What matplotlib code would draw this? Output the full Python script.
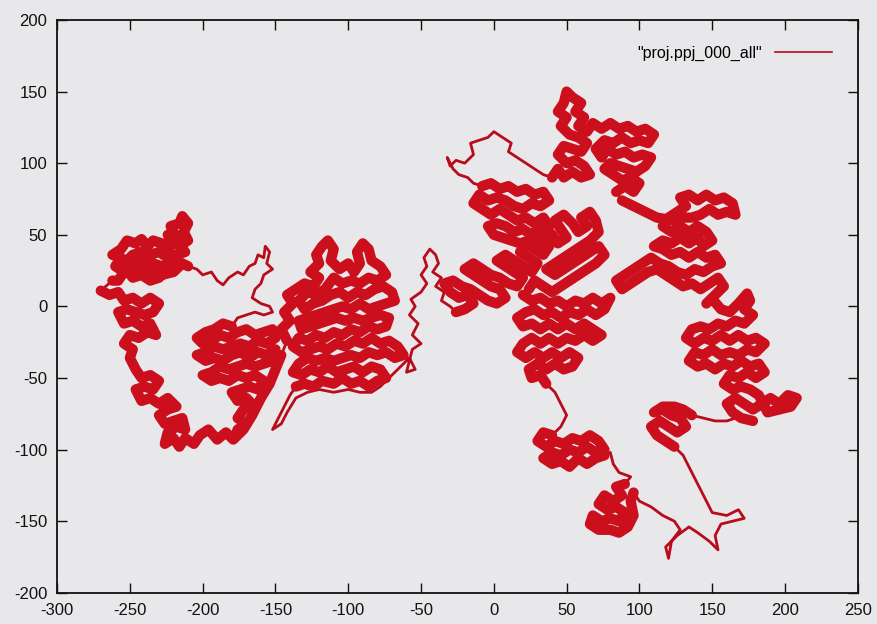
import matplotlib.pyplot as plt

plt.rcParams['font.family'] = ['Liberation Sans', 'DejaVu Sans']
plt.rcParams['axes.unicode_minus'] = False

# walk waypoints (x, y), in the order the walk visits them
west_arm = [(-179, -93), (-184, -88), (-190, -93), (-196, -86), (-202, -90), (-206, -96),
            (-212, -92), (-216, -98), (-220, -92), (-226, -96), (-224, -88), (-218, -84),
            (-212, -86), (-214, -78), (-220, -80), (-226, -82), (-230, -76), (-224, -72),
            (-218, -70), (-224, -64), (-230, -68), (-236, -64), (-242, -66), (-246, -58),
            (-240, -56), (-234, -58), (-230, -52), (-236, -48), (-242, -50), (-246, -44),
            (-250, -36), (-248, -30), (-254, -26), (-250, -20), (-244, -22), (-238, -18),
            (-232, -20), (-236, -12), (-242, -14), (-248, -10), (-254, -12), (-258, -4),
            (-252, -2), (-246, -4), (-240, -6), (-234, -4), (-230, 2), (-236, 6),
            (-242, 2), (-248, 6), (-254, 4), (-258, 10), (-264, 8), (-270, 11)]

north_west = [(-262, 18), (-258, 18), (-254, 24), (-260, 28), (-256, 34), (-262, 36),
              (-256, 40), (-252, 46), (-246, 44), (-242, 47), (-238, 42), (-234, 46),
              (-228, 44), (-224, 40), (-220, 44), (-224, 50), (-218, 48), (-222, 56),
              (-216, 58), (-214, 63), (-210, 58), (-213, 52), (-210, 46), (-216, 42),
              (-212, 38), (-218, 36), (-224, 34), (-230, 38), (-236, 36), (-242, 38),
              (-248, 36), (-252, 32), (-246, 30), (-240, 32), (-234, 30), (-228, 28),
              (-222, 30), (-216, 28), (-220, 24), (-228, 22), (-236, 24), (-244, 26),
              (-250, 24), (-254, 28), (-248, 20), (-242, 22), (-236, 18), (-230, 20),
              (-224, 26), (-216, 31), (-210, 28)]

ridge = [(-204, 26), (-200, 22), (-194, 24), (-190, 18), (-186, 15), (-182, 20),
         (-176, 24), (-172, 22), (-168, 28), (-164, 30), (-162, 36), (-158, 34),
         (-157, 42), (-154, 38), (-156, 30), (-152, 26), (-158, 22), (-160, 16),
         (-164, 12), (-166, 6), (-160, 2), (-154, 0), (-152, -4), (-158, -6),
         (-164, -4), (-170, -6), (-176, -8)]

west_lobe = [(-180, -14), (-186, -12), (-192, -16), (-198, -18), (-204, -22), (-200, -26),
             (-194, -24), (-188, -20), (-182, -22), (-176, -18), (-170, -16), (-164, -20),
             (-158, -18), (-152, -16), (-150, -22), (-156, -26), (-162, -24), (-168, -28),
             (-174, -26), (-180, -28), (-186, -30), (-192, -28), (-198, -32), (-204, -34),
             (-198, -38), (-192, -36), (-186, -38), (-180, -34), (-174, -32), (-168, -36),
             (-162, -32), (-156, -34), (-150, -30), (-152, -38), (-158, -40), (-164, -42),
             (-170, -40), (-176, -42), (-182, -44), (-188, -42), (-194, -46), (-200, -48),
             (-194, -52), (-188, -50), (-182, -52), (-176, -48), (-170, -50), (-164, -48),
             (-158, -52), (-162, -58), (-168, -56), (-174, -58), (-180, -60), (-176, -66),
             (-170, -64), (-166, -68), (-172, -72), (-176, -78), (-170, -82), (-176, -86),
             (-178, -92), (-172, -86), (-166, -76), (-160, -64), (-154, -54), (-150, -44),
             (-146, -34)]

centre_lobe = [(-142, -24), (-146, -16), (-140, -10), (-144, -4), (-138, 2), (-142, 8),
               (-136, 12), (-130, 16), (-124, 14), (-120, 20), (-126, 24), (-120, 30),
               (-122, 36), (-118, 42), (-114, 46), (-110, 40), (-112, 32), (-106, 26),
               (-100, 30), (-96, 24), (-92, 30), (-94, 38), (-90, 44), (-86, 40),
               (-84, 32), (-78, 28), (-74, 22), (-80, 18), (-86, 20), (-92, 16),
               (-98, 18), (-104, 16), (-110, 20), (-116, 12), (-122, 8), (-128, 10),
               (-134, 4), (-130, -2), (-124, 2), (-118, 4), (-112, 8), (-106, 10),
               (-100, 6), (-94, 10), (-88, 8), (-82, 12), (-76, 14), (-70, 10),
               (-68, 4), (-74, 2), (-80, 0), (-86, -2), (-92, 2), (-98, -2),
               (-104, 0), (-110, -2), (-116, -4), (-122, -6), (-128, -8), (-134, -10),
               (-132, -16), (-126, -14), (-120, -12), (-114, -10), (-108, -8), (-102, -10),
               (-96, -8), (-90, -10), (-84, -8), (-78, -6), (-72, -8), (-74, -14),
               (-80, -16), (-86, -14), (-92, -18), (-98, -16), (-104, -20), (-110, -18),
               (-116, -22), (-122, -20), (-128, -24), (-134, -22), (-138, -28), (-132, -32),
               (-126, -30), (-120, -28), (-114, -30), (-108, -26), (-102, -28), (-96, -24),
               (-90, -26), (-84, -22), (-78, -26), (-72, -24), (-66, -28), (-62, -34),
               (-68, -36), (-74, -32), (-80, -34), (-86, -32), (-92, -36), (-98, -34),
               (-104, -36), (-110, -38), (-116, -36), (-122, -38), (-128, -36), (-134, -40),
               (-138, -46), (-132, -48), (-126, -44), (-120, -46), (-114, -42), (-108, -46),
               (-102, -44), (-96, -42), (-90, -46), (-84, -42), (-78, -44), (-74, -50),
               (-80, -52), (-86, -56), (-92, -52), (-98, -54), (-104, -50), (-110, -54),
               (-118, -52), (-124, -56), (-130, -54), (-136, -56)]

south_tail = [(-140, -62), (-144, -70), (-148, -78), (-152, -86), (-146, -82), (-142, -74),
              (-136, -64), (-128, -60), (-120, -58), (-110, -60), (-100, -58), (-92, -60),
              (-84, -60), (-78, -56), (-70, -48)]

east_fringe = [(-64, -42), (-58, -36), (-54, -44), (-60, -46), (-56, -30), (-50, -26),
               (-56, -20), (-52, -12), (-58, -6), (-54, 0), (-57, 5), (-50, 10),
               (-46, 16), (-50, 22), (-46, 28), (-48, 34), (-44, 40), (-40, 36),
               (-38, 30), (-42, 24), (-36, 20), (-40, 14), (-34, 10), (-36, 4), (-30, 0)]

band = [(-26, -4), (-20, -2), (-14, 2), (-18, 8), (-24, 6), (-30, 10), (-34, 16),
        (-28, 18), (-22, 14), (-16, 12), (-10, 8), (-4, 4), (2, 2), (8, 6), (4, 12),
        (-2, 14), (-8, 18), (-14, 22), (-20, 26), (-14, 30), (-8, 26), (-2, 22), (4, 20),
        (10, 16), (16, 14), (20, 20), (14, 24), (8, 28), (2, 32), (8, 36), (14, 32),
        (20, 28), (26, 24), (30, 30), (24, 34), (18, 38), (22, 44), (28, 40), (34, 36),
        (38, 42), (32, 46), (28, 52), (34, 56), (40, 50), (44, 44), (50, 48), (46, 54),
        (42, 60), (48, 64), (54, 58), (58, 52), (64, 56), (60, 62), (66, 66), (70, 60),
        (72, 52), (66, 46), (60, 42), (54, 38), (48, 34), (42, 30), (36, 26), (42, 22),
        (48, 26), (54, 30), (60, 34), (66, 38), (72, 42), (76, 36), (70, 30), (64, 26),
        (58, 22), (52, 18), (46, 14), (40, 10), (34, 14), (28, 18), (24, 12)]

south_lobe = [(20, 8), (26, 4), (32, 6), (38, 2), (44, 4), (50, 0), (56, 4), (62, 2),
              (68, 6), (74, 2), (80, 6), (76, -2), (70, -6), (64, -2), (58, -6), (52, -4),
              (46, -8), (40, -4), (34, -6), (28, -2), (22, -4), (16, -8), (20, -14),
              (26, -12), (32, -16), (38, -12), (44, -16), (50, -12), (56, -16), (62, -12),
              (68, -16), (74, -20), (68, -24), (62, -20), (56, -24), (50, -22), (44, -26),
              (38, -22), (32, -26), (26, -22), (20, -26), (16, -32), (22, -36), (28, -32),
              (34, -36), (40, -32), (46, -36), (52, -32), (58, -36), (54, -42), (48, -44),
              (42, -40), (36, -44), (30, -40), (24, -44), (26, -50), (32, -48), (36, -54)]

south_chain = [(42, -60), (46, -68), (50, -76), (46, -84)]

lower_blob = [(40, -90), (34, -88), (30, -94), (36, -98), (42, -94), (48, -96), (54, -92),
              (60, -94), (66, -90), (72, -94), (76, -100), (70, -102), (64, -98), (58, -102),
              (52, -100), (46, -104), (40, -102), (34, -106), (40, -110), (46, -108),
              (52, -112), (58, -106), (64, -110), (70, -106), (76, -104)]

neck = [(80, -102), (82, -110), (86, -116), (94, -119)]

foot_blob = [(90, -124), (84, -126), (88, -132), (82, -136), (76, -132), (72, -138),
             (78, -142), (84, -140), (90, -144), (86, -150), (80, -148), (74, -150),
             (68, -146), (66, -152), (72, -156), (80, -156), (86, -158), (92, -154),
             (96, -146), (94, -136), (96, -130)]

hook = [(100, -136), (108, -140), (116, -146), (124, -150), (128, -156), (122, -164),
        (120, -176), (118, -168), (126, -160), (134, -154), (140, -158), (148, -164),
        (154, -170), (152, -160), (156, -152), (164, -150), (172, -148), (168, -142),
        (160, -146), (150, -144), (146, -136), (142, -128), (138, -120), (134, -112),
        (130, -104)]

east_small = [(124, -98), (118, -94), (112, -90), (108, -84), (114, -80), (120, -84),
              (126, -88), (132, -84), (128, -78), (122, -76), (116, -72), (110, -74),
              (116, -70), (124, -70), (130, -72), (136, -76)]

east_link = [(144, -78), (152, -80), (160, -80), (172, -76)]

east_lobe = [(178, -80), (170, -78), (164, -74), (160, -68), (166, -64), (172, -68),
             (178, -72), (184, -68), (190, -64), (196, -68), (202, -62), (208, -64),
             (204, -70), (196, -72), (188, -74), (182, -62), (176, -58), (170, -56),
             (164, -58), (158, -54), (162, -48), (168, -50), (174, -46), (180, -50),
             (186, -46), (182, -40), (176, -42), (170, -38), (164, -42), (158, -40),
             (152, -44), (146, -40), (140, -42), (134, -38), (138, -32), (144, -34),
             (150, -30), (156, -34), (162, -32), (168, -34), (174, -30), (180, -32),
             (186, -26), (180, -22), (174, -24), (168, -20), (162, -24), (156, -20),
             (150, -24), (144, -22), (138, -26), (132, -22), (136, -16), (142, -14),
             (148, -16), (154, -12), (160, -14), (166, -10), (172, -12), (178, -6),
             (172, -2), (176, 4), (174, 9), (168, 2), (162, -4), (156, -2), (151, 4)]

north_east = [(146, 2), (152, 8), (158, 14), (154, 20), (148, 16), (142, 12), (136, 16),
              (130, 14), (124, 18), (118, 22), (112, 26), (106, 24), (100, 20), (94, 16),
              (88, 12), (84, 18), (90, 22), (96, 26), (102, 30), (108, 34), (114, 30),
              (120, 28), (126, 24), (132, 22), (138, 26), (144, 24), (150, 28), (156, 30),
              (152, 36), (146, 34), (140, 38), (134, 34), (128, 38), (122, 36), (116, 40),
              (110, 42), (116, 46), (122, 44), (128, 48), (134, 44), (140, 48), (144, 42),
              (150, 46), (146, 52), (140, 56), (134, 52), (128, 56), (122, 52), (116, 56),
              (120, 62), (126, 66), (132, 70), (128, 76), (134, 78), (140, 74), (146, 78),
              (152, 74), (158, 76), (164, 72), (166, 64), (160, 66), (154, 64), (148, 68),
              (142, 64), (136, 62), (130, 62), (124, 60), (112, 62), (104, 66), (96, 70),
              (88, 74)]

top_lobe = [(84, 80), (90, 84), (96, 80), (100, 86), (94, 90), (88, 88), (82, 92),
            (76, 96), (80, 100), (86, 98), (92, 96), (98, 94), (104, 98), (108, 104),
            (102, 106), (96, 104), (90, 108), (84, 106), (78, 110), (74, 104), (70, 110),
            (76, 116), (82, 114), (88, 118), (94, 114), (100, 116), (106, 114), (110, 120),
            (104, 124), (98, 122), (92, 126), (86, 124), (80, 128), (74, 124), (68, 128),
            (64, 122), (58, 126), (62, 132), (56, 136), (60, 142), (54, 146), (50, 150),
            (48, 142), (44, 136), (50, 132), (46, 126), (52, 120), (58, 118), (64, 114),
            (60, 108), (54, 110), (48, 112), (44, 106), (50, 100), (56, 102), (62, 98),
            (66, 92), (60, 90), (54, 94), (48, 90), (44, 96), (40, 90)]

north_spur = [(34, 92), (28, 96), (22, 100), (16, 104), (10, 108), (12, 114), (6, 118),
              (0, 122), (-4, 118), (-10, 116), (-16, 114), (-14, 106), (-20, 100),
              (-26, 102), (-30, 98), (-32, 104), (-28, 96), (-24, 92), (-18, 90),
              (-14, 86)]

north_arm = [(-8, 84), (-2, 86), (4, 82), (10, 84), (16, 80), (22, 82), (28, 78), (34, 80),
             (38, 74), (32, 70), (26, 72), (20, 68), (14, 70), (8, 74), (2, 76), (-4, 74),
             (-10, 78), (-14, 72), (-8, 68), (-2, 64), (4, 68), (10, 64), (16, 60), (22, 62),
             (28, 58), (34, 62), (38, 56), (32, 52), (26, 50), (20, 54), (14, 52), (8, 56),
             (2, 58), (-4, 56), (0, 50), (6, 48), (12, 46), (18, 44), (24, 46), (30, 42),
             (36, 46), (40, 50)]

route = [west_arm, north_west, ridge, west_lobe, centre_lobe, south_tail, east_fringe,
         band, south_lobe, south_chain, lower_blob, neck, foot_blob, hook, east_small,
         east_link, east_lobe, north_east, top_lobe, north_spur, north_arm]
# parts of the walk that pile up into dense patches
packed = [west_arm, north_west, west_lobe, centre_lobe, band, south_lobe, lower_blob,
          foot_blob, east_small, east_lobe, north_east, top_lobe, north_arm]

walk = [p for seg in route for p in seg]
walk_x = [p[0] for p in walk]
walk_y = [p[1] for p in walk]

paper = '#e8e8eb'
red = '#cb0f1c'
fig = plt.figure(figsize=(8.78, 6.24), dpi=100, facecolor=paper)
ax = fig.add_axes([0.065, 0.05, 0.912, 0.918])
ax.set_facecolor(paper)

ax.plot(walk_x, walk_y, color='#b80c1a', lw=2.0, solid_joinstyle='round',
        label='"proj.ppj_000_all"')
for seg in packed:
    ax.plot([p[0] for p in seg], [p[1] for p in seg], color=red, lw=7.4,
            solid_joinstyle='round', solid_capstyle='round')

ax.set_xlim(-300, 250)
ax.set_ylim(-200, 200)
ax.set_xticks(range(-300, 251, 50))
ax.set_yticks(range(-200, 201, 50))
ax.tick_params(direction='in', length=7, width=1, top=True, right=True,
               labelsize=12, colors='#111111', pad=7)
for s in ax.spines.values():
    s.set_linewidth(1.3)
    s.set_color('#111111')

leg = ax.legend(loc='upper right', frameon=False, markerfirst=False, fontsize=11.5,
                handlelength=3.6, handletextpad=0.8, borderaxespad=1.2)
for h in leg.get_lines():
    h.set_linewidth(1.2)

fig.savefig('out.png', dpi=100, facecolor=paper)
